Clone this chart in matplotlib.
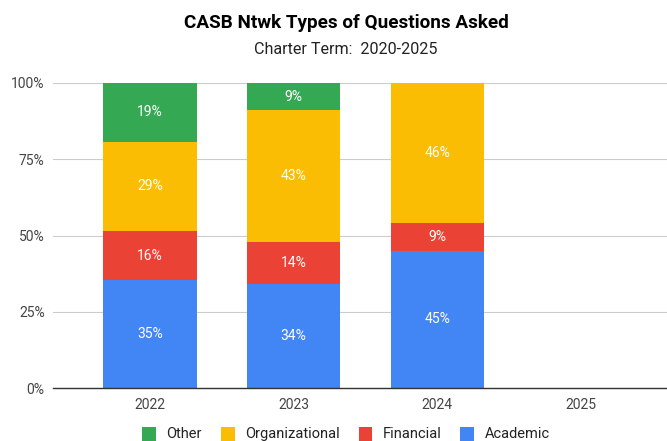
import matplotlib.pyplot as plt
import numpy as np

plt.rcParams['font.family'] = ['Roboto', 'DejaVu Sans']

years = ['2022', '2023', '2024', '2025']
series = ['Academic', 'Financial', 'Organizational', 'Other']
academic = [35, 34, 45, 0]
financial = [16, 14, 9, 0]
organizational = [29, 43, 46, 0]
other = [19, 9, 0, 0]
colors = ['#4285F4', '#EA4335', '#FBBC04', '#34A853']

values = np.array([academic, financial, organizational, other], dtype=float)
totals = values.sum(axis=0)
shares = np.divide(values, totals, out=np.zeros_like(values), where=totals > 0)

fig = plt.figure(figsize=(6.67, 4.41), dpi=100)
ax = fig.add_axes([53 / 667, 1 - 388 / 441, 1 - 53 / 667, 305 / 441])

x = np.arange(len(years))
bottom = np.zeros(len(years))
handles = []
for i, name in enumerate(series):
    h = ax.bar(x, shares[i], 0.65, bottom=bottom, color=colors[i], label=name, zorder=3)
    handles.append(h)
    for j in range(len(years)):
        if values[i, j] > 0:
            ax.text(x[j], bottom[j] + shares[i, j] / 2, '%d%%' % values[i, j],
                    ha='center', va='center', color='white', fontsize=10, zorder=4)
    bottom += shares[i]

ax.set_xlim(-0.675, 3.6)
ax.set_ylim(0, 1)
ax.set_yticks([0, 0.25, 0.5, 0.75, 1.0])
ax.set_yticklabels(['0%', '25%', '50%', '75%', '100%'])
ax.set_xticks(x)
ax.set_xticklabels(years)
ax.tick_params(axis='both', length=0, labelsize=10, colors='#444444')
ax.tick_params(axis='y', pad=6)
ax.tick_params(axis='x', pad=7)
ax.grid(axis='y', color='#cccccc', linewidth=0.8, zorder=0)
for s in ['top', 'right', 'left']:
    ax.spines[s].set_visible(False)
ax.spines['bottom'].set_color('#333333')
ax.spines['bottom'].set_linewidth(1.0)
ax.spines['bottom'].set_zorder(5)
ax.set_facecolor('white')

# titles are centred on the full (uncropped) chart, not on this image
cx = 346 / 667
fig.text(cx, 1 - 23 / 441, 'CASB Ntwk Types of Questions Asked', ha='center', va='center',
         fontsize=13.6, fontweight='bold', color='#000000')
fig.text(cx, 1 - 49 / 441, 'Charter Term:  2020-2025', ha='center', va='center',
         fontsize=11.6, color='#222222')

fig.legend(handles[::-1], series[::-1], loc='center', bbox_to_anchor=(cx, 1 - 434 / 441),
           ncol=4, frameon=False, fontsize=10.5, handlelength=0.95, handleheight=1.1,
           columnspacing=1.3, handletextpad=0.7, labelcolor='#222222')

fig.savefig('out.png', dpi=100)
